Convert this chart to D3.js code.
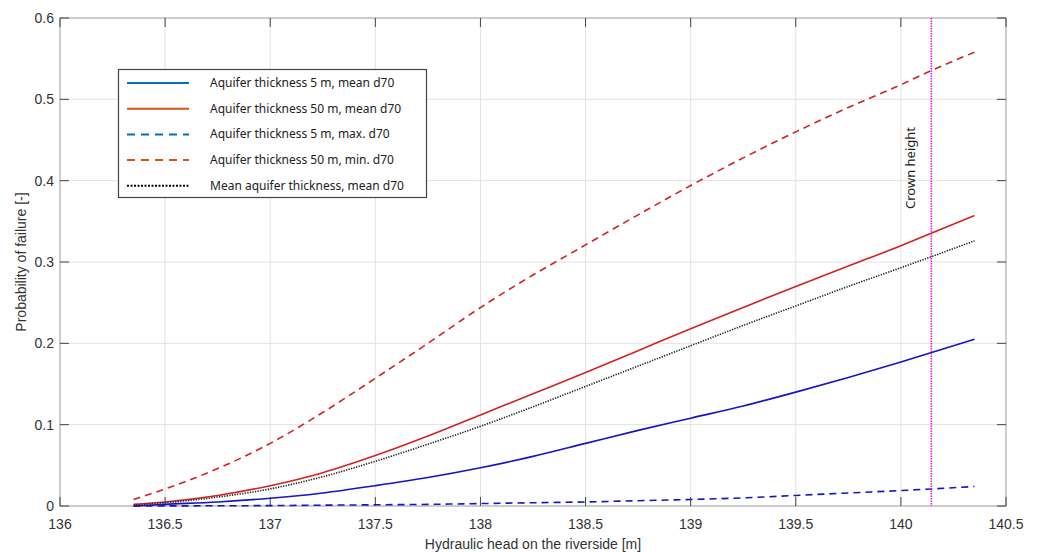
<!DOCTYPE html>
<html>
<head>
<meta charset="utf-8">
<script src="https://cdn.jsdelivr.net/npm/d3@7"></script>
<style>
  body { margin: 0; background: #fff; }
  svg { display: block; }
  .tick-label { font-family: 'Liberation Sans', Arial, sans-serif; font-size: 14px; fill: #333; }
  .axis-title { font-family: 'Liberation Sans', Arial, sans-serif; font-size: 14px; fill: #333; }
  .legend-text { font-family: 'Noto Sans', 'Open Sans', sans-serif; font-size: 12px; fill: #222; }
</style>
</head>
<body>
<script>
// hydraulic head (m) where the probability was read
var heads = [136.35, 136.5, 136.75, 137, 137.25, 137.5, 137.75, 138, 138.25, 138.5, 138.75, 139, 139.25, 139.5, 139.75, 140, 140.15, 140.35]

// probability of failure per scenario
var thick5Mean  = [0.0, 0.002, 0.005, 0.0095, 0.016, 0.025, 0.035, 0.047, 0.061, 0.077, 0.093, 0.108, 0.123, 0.140, 0.158, 0.177, 0.189, 0.205]
var thick50Mean = [0.002, 0.005, 0.013, 0.025, 0.041, 0.062, 0.086, 0.112, 0.138, 0.164, 0.191, 0.218, 0.244, 0.270, 0.295, 0.320, 0.336, 0.357]
var thick5Max   = [0.0, 0.0001, 0.0003, 0.0005, 0.001, 0.0015, 0.002, 0.003, 0.004, 0.005, 0.0065, 0.008, 0.010, 0.013, 0.016, 0.019, 0.021, 0.024]
var thick50Min  = [0.008, 0.021, 0.046, 0.077, 0.115, 0.157, 0.200, 0.244, 0.284, 0.321, 0.358, 0.394, 0.428, 0.460, 0.490, 0.518, 0.536, 0.558]
var meanThick   = [0.001, 0.004, 0.011, 0.021, 0.036, 0.055, 0.076, 0.098, 0.122, 0.147, 0.172, 0.197, 0.222, 0.246, 0.270, 0.293, 0.307, 0.326]

var crownHeight = 140.145

var xTicks = [136, 136.5, 137, 137.5, 138, 138.5, 139, 139.5, 140, 140.5]
var yTicks = [0, 0.1, 0.2, 0.3, 0.4, 0.5, 0.6]

var legendLabels = [
  'Aquifer thickness 5 m, mean d70',
  'Aquifer thickness 50 m, mean d70',
  'Aquifer thickness 5 m, max. d70',
  'Aquifer thickness 50 m, min. d70',
  'Mean aquifer thickness, mean d70'
]

var width = 1040
var height = 552
var margin = {top: 18, right: 34, bottom: 46, left: 60}

var svg = d3.select('body').append('svg')
  .attr('width', width)
  .attr('height', height)

var x = d3.scaleLinear()
  .domain([136, 140.5])
  .range([margin.left, width - margin.right])

var y = d3.scaleLinear()
  .domain([0, 0.6])
  .range([height - margin.bottom, margin.top])

var x0 = x.range()[0], x1 = x.range()[1]
var y0 = y.range()[0], y1 = y.range()[1]

// grid
svg.append('g').selectAll('line.vgrid')
  .data(xTicks.slice(1, -1))
  .enter().append('line')
    .attr('x1', function(d) { return x(d) }).attr('x2', function(d) { return x(d) })
    .attr('y1', y1).attr('y2', y0)
    .attr('stroke', '#e2e2e2').attr('stroke-width', 1)

svg.append('g').selectAll('line.hgrid')
  .data(yTicks.slice(1, -1))
  .enter().append('line')
    .attr('x1', x0).attr('x2', x1)
    .attr('y1', function(d) { return y(d) }).attr('y2', function(d) { return y(d) })
    .attr('stroke', '#e2e2e2').attr('stroke-width', 1)

// axes box and inward ticks (matlab style)
var tickLen = 9
var ax = svg.append('g')
ax.append('rect')
  .attr('x', x0).attr('y', y1)
  .attr('width', x1 - x0).attr('height', y0 - y1)
  .attr('fill', 'none').attr('stroke', '#9a9a9a').attr('stroke-width', 1)

xTicks.forEach(function(d) {
  ax.append('line').attr('x1', x(d)).attr('x2', x(d)).attr('y1', y0).attr('y2', y0 - tickLen)
    .attr('stroke', '#444')
  ax.append('line').attr('x1', x(d)).attr('x2', x(d)).attr('y1', y1).attr('y2', y1 + tickLen)
    .attr('stroke', '#444')
})
yTicks.forEach(function(d) {
  ax.append('line').attr('x1', x0).attr('x2', x0 + tickLen).attr('y1', y(d)).attr('y2', y(d))
    .attr('stroke', '#444')
  ax.append('line').attr('x1', x1).attr('x2', x1 - tickLen).attr('y1', y(d)).attr('y2', y(d))
    .attr('stroke', '#444')
})

ax.selectAll('text.xt')
  .data(xTicks)
  .enter().append('text')
    .attr('class', 'tick-label')
    .attr('x', function(d) { return x(d) })
    .attr('y', y0 + 23)
    .attr('text-anchor', 'middle')
    .text(function(d) { return String(d) })

ax.selectAll('text.yt')
  .data(yTicks)
  .enter().append('text')
    .attr('class', 'tick-label')
    .attr('x', x0 - 6)
    .attr('y', function(d) { return y(d) + 5 })
    .attr('text-anchor', 'end')
    .text(function(d) { return String(d) })

svg.append('text')
  .attr('class', 'axis-title')
  .attr('x', (x0 + x1) / 2)
  .attr('y', height - 3)
  .attr('text-anchor', 'middle')
  .text('Hydraulic head on the riverside [m]')

svg.append('text')
  .attr('class', 'axis-title')
  .attr('transform', 'translate(26,' + ((y0 + y1) / 2) + ')rotate(-90)')
  .attr('text-anchor', 'middle')
  .text('Probability of failure [-]')

// series
var series = [
  {values: thick5Mean,  color: '#1414c8', dash: null},
  {values: thick50Mean, color: '#d42222', dash: null},
  {values: thick5Max,   color: '#1414c8', dash: '7,5'},
  {values: thick50Min,  color: '#d42222', dash: '7,5'},
  {values: meanThick,   color: '#222',    dash: '1.3,1.3'}
]

var line = d3.line()
  .x(function(d) { return x(d[0]) })
  .y(function(d) { return y(d[1]) })
  .curve(d3.curveMonotoneX)

series.forEach(function(s) {
  svg.append('path')
    .datum(heads.map(function(h, i) { return [h, s.values[i]] }))
    .attr('d', line)
    .attr('fill', 'none')
    .attr('stroke', s.color)
    .attr('stroke-width', 1.6)
    .attr('stroke-dasharray', s.dash)
})

// crown height marker
svg.append('line')
  .attr('x1', x(crownHeight)).attr('x2', x(crownHeight))
  .attr('y1', y1).attr('y2', y0)
  .attr('stroke', '#e020e0').attr('stroke-width', 1.6)
  .attr('stroke-dasharray', '1.5,1')

svg.append('text')
  .attr('class', 'legend-text')
  .style('font-size', '13px')
  .attr('transform', 'translate(' + (x(crownHeight) - 16) + ',168)rotate(-90)')
  .attr('text-anchor', 'middle')
  .text('Crown height')

// legend (separate box, matlab default colours)
var legendColors = ['#0072bd', '#d95319', '#0072bd', '#d95319', '#000']
var legendDash = [null, null, '8,6', '8,6', '2,1.5']
var lg = svg.append('g')
lg.append('rect')
  .attr('x', 118.5).attr('y', 69.5)
  .attr('width', 308).attr('height', 128)
  .attr('fill', '#fff').attr('stroke', '#444').attr('stroke-width', 1.2)

legendLabels.forEach(function(label, i) {
  var ly = 83 + i * 25.7
  lg.append('line')
    .attr('x1', 127).attr('x2', 189)
    .attr('y1', ly).attr('y2', ly)
    .attr('stroke', legendColors[i])
    .attr('stroke-width', 2)
    .attr('stroke-dasharray', legendDash[i])
  lg.append('text')
    .attr('class', 'legend-text')
    .attr('x', 210)
    .attr('y', ly + 4)
    .text(label)
})
</script>
</body>
</html>
